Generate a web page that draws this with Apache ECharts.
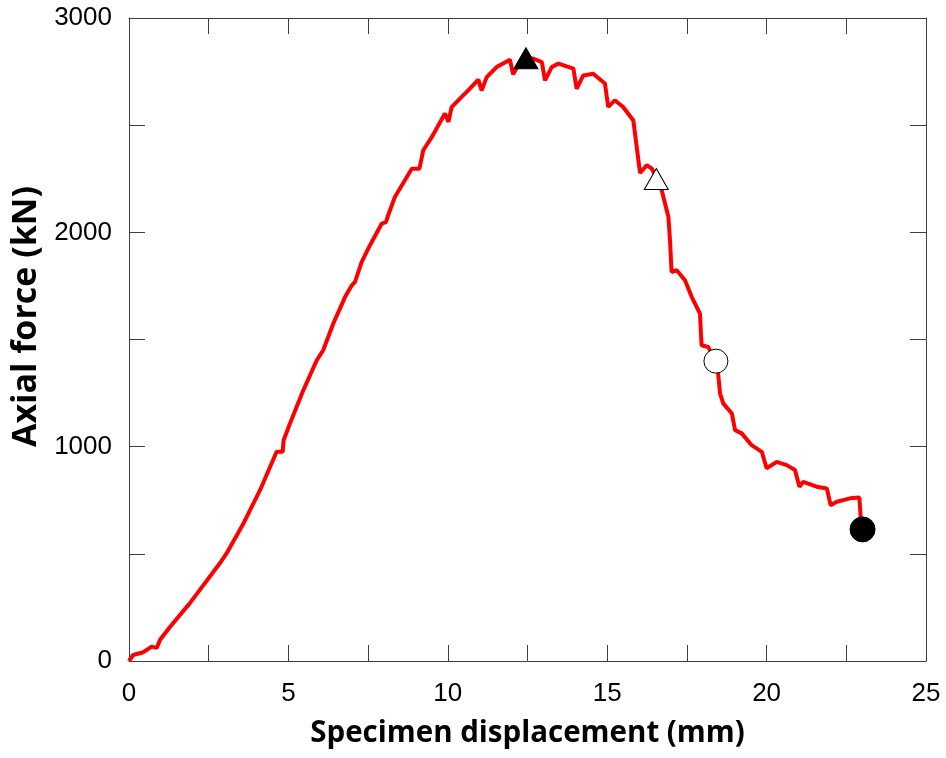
<!DOCTYPE html>
<html>
<head>
<meta charset="utf-8">
<script src="https://cdn.jsdelivr.net/npm/echarts@6/dist/echarts.min.js"></script>
<style>html,body{margin:0;padding:0;background:#fff;}#c{width:946px;height:758px;}</style>
</head>
<body>
<div id="c"></div>
<script>
// Specimen displacement (mm)
const dispData = [0,0.13,0.45,0.71,0.87,0.97,1.29,1.91,2.85,3.06,3.59,4.11,4.63,4.82,4.85,5.05,5.47,5.89,6.09,6.41,6.78,6.99,7.09,7.30,7.56,7.93,8.06,8.13,8.34,8.87,9.11,9.23,9.50,9.91,10.02,10.12,10.38,10.64,10.96,11.06,11.22,11.53,11.95,12.05,12.26,12.48,12.68,12.95,13.05,13.26,13.47,13.94,14.04,14.25,14.56,14.93,15.03,15.24,15.50,15.82,15.90,16.03,16.24,16.40,16.55,16.71,16.92,16.97,17.02,17.18,17.44,17.65,17.91,17.96,18.17,18.38,18.48,18.54,18.64,18.91,19.01,19.22,19.53,19.85,20.00,20.32,20.63,20.89,21.03,21.15,21.57,21.89,22.01,22.20,22.62,22.91,22.95,23.00];
// Axial force (kN)
const forceData = [0,28,41,67,61,98,160,270,456,502,642,797,976,976,1030,1108,1264,1403,1450,1575,1699,1753,1769,1862,1940,2041,2048,2080,2165,2297,2297,2383,2445,2554,2515,2584,2624,2662,2712,2662,2724,2771,2805,2737,2794,2816,2810,2794,2709,2771,2787,2764,2670,2732,2740,2694,2585,2616,2585,2522,2429,2277,2313,2297,2250,2196,2072,1963,1815,1823,1776,1699,1621,1473,1465,1400,1341,1248,1202,1155,1077,1062,1007,976,899,929,914,891,813,836,813,805,727,743,759,763,673,614];
// Marked states
const peakPoint = [12.45, 2812];
const openTriPoint = [16.54, 2249];
const openCirclePoint = [18.41, 1399];
const endPoint = [23.01, 614];

const xTicks = {min: 0, max: 25, interval: 2.5};
const yTicks = {min: 0, max: 3000, interval: 500};

const lineData = dispData.map((d, i) => [d, forceData[i]]);
const axisColor = '#404040';
const labelFont = {color: '#000', fontSize: 26, fontFamily: 'Liberation Sans, Arial, sans-serif'};
const lineStyleAx = {show: true, onZero: false, lineStyle: {color: axisColor, width: 1}};
const tickAx = {show: true, inside: true, length: 16, lineStyle: {color: axisColor}};

const chart = echarts.init(document.getElementById('c'), null, {renderer: 'canvas'});
chart.setOption({
  animation: false,
  backgroundColor: '#fff',
  grid: {left: 129, right: 20, top: 18, bottom: 97, containLabel: false},
  xAxis: [{
    type: 'value', position: 'bottom', min: xTicks.min, max: xTicks.max, interval: xTicks.interval,
    name: 'Specimen displacement (mm)', nameLocation: 'middle', nameGap: 58,
    nameTextStyle: {fontSize: 29.5, fontWeight: 'bold', fontFamily: 'Open Sans, sans-serif', color: '#000'},
    axisLine: lineStyleAx, axisTick: tickAx,
    axisLabel: Object.assign({margin: 20, formatter: v => (v % 5 === 0 ? String(v) : '')}, labelFont),
    splitLine: {show: false}
  }, {
    type: 'value', position: 'top', min: xTicks.min, max: xTicks.max, interval: xTicks.interval,
    axisLine: lineStyleAx, axisTick: tickAx,
    axisLabel: {show: false}, splitLine: {show: false}
  }],
  yAxis: [{
    type: 'value', position: 'left', min: yTicks.min, max: yTicks.max, interval: yTicks.interval,
    name: 'Axial force (kN)', nameLocation: 'middle', nameGap: 84,
    nameTextStyle: {fontSize: 34, fontWeight: 'bold', fontFamily: 'Open Sans, sans-serif', color: '#000', padding: [0, 0, 0, 46]},
    axisLine: lineStyleAx, axisTick: tickAx,
    axisLabel: Object.assign({margin: 17, formatter: v => (v % 1000 === 0 ? String(v) : '')}, labelFont),
    splitLine: {show: false}
  }, {
    type: 'value', position: 'right', min: yTicks.min, max: yTicks.max, interval: yTicks.interval,
    axisLine: lineStyleAx, axisTick: tickAx,
    axisLabel: {show: false}, splitLine: {show: false}
  }],
  series: [{
    type: 'line', data: lineData, showSymbol: false, symbol: 'none',
    lineStyle: {color: '#ff0000', width: 4}, z: 2
  }, {
    type: 'scatter', data: [peakPoint], symbol: 'triangle', symbolSize: [24, 21],
    itemStyle: {color: '#000', borderColor: '#000', borderWidth: 1, opacity: 1}, z: 5
  }, {
    type: 'scatter', data: [openTriPoint], symbol: 'triangle', symbolSize: [24, 21],
    itemStyle: {color: '#fff', borderColor: '#000', borderWidth: 1, opacity: 1}, z: 5
  }, {
    type: 'scatter', data: [openCirclePoint], symbol: 'circle', symbolSize: 24,
    itemStyle: {color: '#fff', borderColor: '#000', borderWidth: 1, opacity: 1}, z: 5
  }, {
    type: 'scatter', data: [endPoint], symbol: 'circle', symbolSize: 25,
    itemStyle: {color: '#000', borderColor: '#000', borderWidth: 1, opacity: 1}, z: 5
  }]
});
</script>
</body>
</html>
